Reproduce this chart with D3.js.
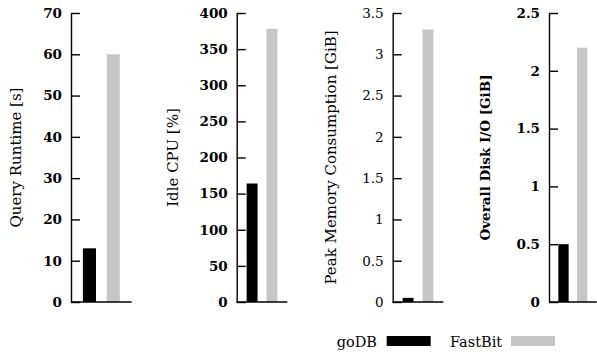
<!DOCTYPE html>
<html>
<head>
<meta charset="utf-8">
<script src="https://cdn.jsdelivr.net/npm/d3@7"></script>
<style>
  body { margin: 0; background: #fff; }
  text { font-family: "DejaVu Serif", serif; fill: #000; }
</style>
</head>
<body>
<div id="chart"></div>
<script>
const metrics = ["Query Runtime [s]", "Idle CPU [%]", "Peak Memory Consumption [GiB]", "Overall Disk I/O [GiB]"];
const systems = ["goDB", "FastBit"];
const goDB = [13, 164, 0.05, 0.5];
const fastBit = [60, 378, 3.3, 2.2];
const yMax = [70, 400, 3.5, 2.5];
const tickValues = [
  [0, 10, 20, 30, 40, 50, 60, 70],
  [0, 50, 100, 150, 200, 250, 300, 350, 400],
  [0, 0.5, 1, 1.5, 2, 2.5, 3, 3.5],
  [0, 0.5, 1, 1.5, 2, 2.5]
];
const colors = { goDB: "#000000", FastBit: "#c6c6c6" };

// layout of the four small panels
const axisLeft = [71, 236.7, 392.7, 549];
const axisRight = [131.7, 287.3, 443.3, 596.7];
const titleX = [15.5, 173.3, 330.5, 485];
const boldTicks = [true, true, false, true];
const boldTitle = [false, false, false, true];
const titleSize = [15, 15, 15, 13.5];
const plotTop = 13, plotBottom = 302;

const svg = d3.select("#chart").append("svg")
  .attr("width", 597)
  .attr("height", 352);

metrics.forEach((m, i) => {
  const y = d3.scaleLinear().domain([0, yMax[i]]).range([plotBottom, plotTop]);
  const x = d3.scaleBand()
    .domain(systems)
    .range([axisLeft[i], axisRight[i]])
    .paddingInner(0.45)
    .paddingOuter(0.5);

  const g = svg.append("g");
  const vals = [goDB[i], fastBit[i]];

  g.selectAll("rect.bar")
    .data(systems)
    .enter()
    .append("rect")
    .attr("class", "bar")
    .attr("x", d => x(d))
    .attr("width", x.bandwidth())
    .attr("y", (d, j) => y(vals[j]))
    .attr("height", (d, j) => plotBottom - y(vals[j]))
    .attr("fill", d => colors[d]);

  const ax = g.append("g")
    .attr("transform", "translate(" + axisLeft[i] + ",0)")
    .call(d3.axisRight(y).tickValues(tickValues[i]).tickSize(9).tickSizeOuter(0).tickFormat(d3.format("")));
  ax.select(".domain").attr("stroke", "#000").attr("stroke-width", 1.4);
  ax.selectAll(".tick line").attr("stroke", "#000").attr("stroke-width", 1.4);
  ax.selectAll(".tick text")
    .attr("x", -9)
    .attr("text-anchor", "end")
    .style("font-family", "'DejaVu Serif', serif")
    .style("font-size", "13.5px")
    .style("font-weight", boldTicks[i] ? "bold" : "normal");

  g.append("line")
    .attr("x1", axisLeft[i]).attr("x2", axisRight[i])
    .attr("y1", y(0)).attr("y2", y(0))
    .attr("stroke", "#000").attr("stroke-width", 1.4);

  g.append("text")
    .attr("transform", "translate(" + titleX[i] + "," + ((plotTop + plotBottom) / 2) + ") rotate(-90)")
    .attr("text-anchor", "middle")
    .attr("dominant-baseline", "central")
    .style("font-size", titleSize[i] + "px")
    .style("font-weight", boldTitle[i] ? "bold" : "normal")
    .text(m);
});

// legend
const legendText = [336.7, 450];
const legendSwatch = [386.7, 511];
systems.forEach((s, j) => {
  svg.append("text")
    .attr("x", legendText[j]).attr("y", 346.5)
    .style("font-size", "14.5px")
    .text(s);
  svg.append("rect")
    .attr("x", legendSwatch[j]).attr("y", 336)
    .attr("width", 44).attr("height", 10)
    .attr("fill", colors[s]);
});
</script>
</body>
</html>
